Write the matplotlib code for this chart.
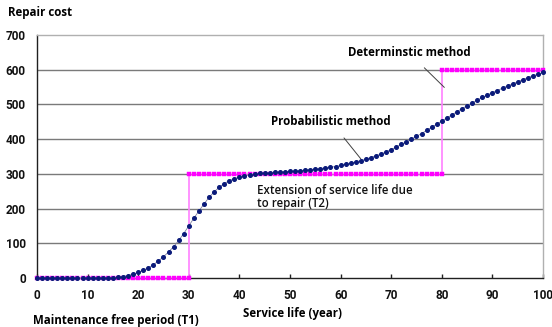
import matplotlib
matplotlib.use("Agg")
import matplotlib.pyplot as plt

# Service life in years
years = list(range(0, 101))

# Probabilistic repair cost, one value per year
probabilistic_cost = [
    0, 0, 0, 0, 0, 0, 0, 0, 0, 0,
    0, 0, 0, 0, 0, 1, 2, 4, 7, 11,
    16, 22, 29, 38, 49, 61, 75, 90, 108, 128,
    150, 172, 193, 213, 232, 248, 261, 272, 280, 286,
    291, 294, 297, 299, 301, 302, 303, 304, 305, 306,
    307, 308, 309, 310, 312, 313, 315, 317, 319, 321,
    324, 327, 330, 334, 338, 342, 347, 352, 357, 363,
    370, 377, 385, 392, 400, 408, 416, 425, 434, 443,
    452, 461, 470, 479, 488, 496, 504, 512, 520, 527,
    534, 540, 547, 553, 559, 565, 571, 577, 582, 587,
    592,
]

# Deterministic method: cost steps at each repair time
det_breaks = [0, 30, 80, 100]
det_levels = [0, 300, 600]

x_ticks = [0, 10, 20, 30, 40, 50, 60, 70, 80, 90, 100]
y_ticks = [0, 100, 200, 300, 400, 500, 600, 700]

label_font = ["Open Sans", "DejaVu Sans"]
tick_font = ["Roboto", "DejaVu Sans"]

fig = plt.figure(figsize=(5.52, 3.27), dpi=100)
ax = fig.add_axes([0.067, 0.15, 0.9167, 0.743])

ax.set_xlim(0, 100)
ax.set_ylim(0, 700)

# horizontal gridlines
for y in y_ticks[1:-1]:
    ax.axhline(y, color="#7a7a7a", lw=1.0, zorder=1)

# deterministic step function
magenta = "#ff00ff"
for i, level in enumerate(det_levels):
    seg_x = [x for x in years if det_breaks[i] <= x <= det_breaks[i + 1]]
    ax.plot(seg_x, [level] * len(seg_x), color="#ff66ff", lw=0.5,
            marker="s", ms=2.9, mec=magenta, mfc=magenta, mew=0.3,
            zorder=3, clip_on=False)
for i in range(1, len(det_levels)):
    ax.plot([det_breaks[i], det_breaks[i]], [det_levels[i - 1], det_levels[i]],
            color="#ff80ff", lw=1.2, zorder=2)

# probabilistic curve
ax.plot(years, probabilistic_cost, color="#8080a0", lw=0.6, zorder=4,
        marker="o", ms=2.6, mfc="#0a1a7a", mec="#0a1a7a", clip_on=False)

# spines and ticks
for side in ("left", "bottom"):
    ax.spines[side].set_color("#202020")
    ax.spines[side].set_linewidth(1.0)
for side in ("top", "right"):
    ax.spines[side].set_color("#b0b0b0")
    ax.spines[side].set_linewidth(1.0)

tick_style = dict(family=tick_font, fontweight="bold", fontsize=8.5,
                  color="#111111")
ax.set_xticks(x_ticks)
ax.set_xticklabels([str(v) for v in x_ticks], **tick_style)
ax.set_yticks(y_ticks)
ax.set_yticklabels([str(v) for v in y_ticks], **tick_style)
ax.tick_params(axis="x", direction="in", length=3, width=1, color="#202020",
               pad=8)
ax.tick_params(axis="y", length=0, pad=8)

# annotations
ax.annotate("Determinstic method", xy=(80.5, 549), xytext=(73.5, 649),
            ha="center", va="center", fontsize=8.3, fontweight="bold",
            family=label_font,
            arrowprops=dict(arrowstyle="-", color="#404040", lw=0.7,
                            shrinkA=6, shrinkB=0))
ax.annotate("Probabilistic method", xy=(64, 343), xytext=(58, 452),
            ha="center", va="center", fontsize=8.3, fontweight="bold",
            family=label_font,
            arrowprops=dict(arrowstyle="-", color="#404040", lw=0.7,
                            shrinkA=7, shrinkB=0))
ax.text(43.5, 272, "Extension of service life due\nto repair (T2)",
        ha="left", va="top", fontsize=8.3, family=label_font,
        fontweight="semibold", linespacing=1.0, color="#111111")

fig.text(0.014, 0.962, "Repair cost", ha="left", va="center", fontsize=8.3,
         fontweight="bold", family=label_font)
fig.text(0.529, 0.04, "Service life (year)", ha="center", va="center",
         fontsize=8.3, fontweight="bold", family=label_font)
fig.text(0.06, 0.02, "Maintenance free period (T1)", ha="left", va="center",
         fontsize=8.3, fontweight="bold", family=label_font)

fig.savefig("out.png", dpi=100)
